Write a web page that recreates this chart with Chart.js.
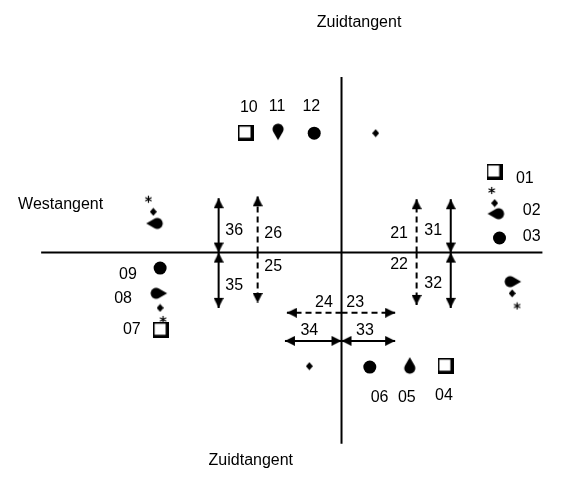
<!DOCTYPE html>
<html>
<head>
<meta charset="utf-8">
<script src="https://cdn.jsdelivr.net/npm/chart.js@4"></script>
<style>
  html, body { margin: 0; padding: 0; background: #fff; }
  canvas { display: block; }
</style>
</head>
<body>
<canvas id="crossing" width="566" height="477"></canvas>
<script>
// coordinates relative to the centre of the crossing (x right, y up)
const roadLines = [[[0, 181], [0, -197]], [[-308, 0], [206, 0]]];

const squarePts = [[-98, 123], [157, 83], [-185, -80], [107, -117]];
const circlePts = [[-28, 123], [162, 15], [-186, -16], [29, -118]];
const diamondPts = [[35, 123], [157, 51], [-193, 42], [-186, -57], [175, -42], [-33, -117]];
const starPts = [[154, 64], [-198, 55], [-183, -69], [180, -55]];
const dropPts = [[-65, 125], [159, 40], [-191, 30], [-188, -42], [175, -30], [70, -117]];
const dropDir = [180, 270, 270, 90, 90, 0];

// solid arrows have heads at both ends, dashed only at the far end
const solidArrows = [
  [[-126, 0], [-126, 56]], [[-126, 0], [-126, -57]],
  [[112, 0], [112, 55]], [[112, 0], [112, -57]],
  [[0, -91], [-58, -91]], [[0, -91], [55, -91]]
];
const dashedArrows = [
  [[-86, 0], [-86, 58]], [[-86, 0], [-86, -52]],
  [[77, 0], [77, 55]], [[77, 0], [77, -54]],
  [[0, -62], [-56, -62]], [[0, -62], [55, -62]]
];

const labelText = ["Zuidtangent", "Zuidtangent", "Westangent",
  "10", "11", "12", "01", "02", "03", "09", "08", "07", "06", "05", "04",
  "36", "35", "26", "25", "21", "31", "22", "32", "24", "23", "34", "33"];
const labelPos = [[18, 237], [-93, -214], [-288, 49],
  [-95, 149], [-66, 150], [-31, 150], [188, 76], [195, 43], [195, 16],
  [-219, -23], [-224, -47], [-215, -79], [39, -149], [67, -149], [105, -147],
  [-110, 23], [-110, -34], [-70, 20], [-70, -14], [59, 20], [94, 23], [59, -12], [94, -32],
  [-18, -52], [14, -52], [-33, -80], [24, -80]];

function makeCanvas(w, h, draw) {
  const c = document.createElement("canvas");
  c.width = w; c.height = h;
  const g = c.getContext("2d");
  g.fillStyle = "#000"; g.strokeStyle = "#000";
  draw(g);
  return c;
}

// arrow head pointing up, tip at the image centre
const arrowHead = makeCanvas(10, 22, g => {
  g.beginPath(); g.moveTo(5, 11); g.lineTo(10, 21); g.lineTo(0, 21); g.closePath(); g.fill();
});
// square outline with a shadow on right and bottom
const shadowSquare = makeCanvas(16, 16, g => {
  g.fillRect(0, 0, 16, 16);
  g.fillStyle = "#fff"; g.fillRect(1.5, 1.5, 11, 11);
});
const diamond = makeCanvas(7, 9, g => {
  g.beginPath(); g.moveTo(3.5, 0.5); g.lineTo(7, 4.5); g.lineTo(3.5, 8.5); g.lineTo(0, 4.5); g.closePath(); g.fill();
});
const star = makeCanvas(9, 9, g => {
  g.lineWidth = 1.2;
  g.translate(4.5, 4.5);
  for (let i = 0; i < 3; i++) {
    g.beginPath(); g.moveTo(0, -3.6); g.lineTo(0, 3.6); g.stroke();
    g.rotate(Math.PI / 3);
  }
});
// drop pointing up, head below
const drop = makeCanvas(14, 26, g => {
  const r = 5.5, d = 11, cx = 7, cy = 15;
  const t = Math.acos(r / d);
  g.beginPath();
  g.moveTo(cx, cy - d);
  g.arc(cx, cy, r, -Math.PI / 2 + t, 3 * Math.PI / 2 - t);
  g.closePath(); g.fill();
});

const toXY = p => ({ x: p[0], y: p[1] });
const angle = (a, b) => Math.atan2(-(b[1] - a[1]), b[0] - a[0]) * 180 / Math.PI + 90;

const datasets = [];
roadLines.forEach(l => datasets.push({
  data: l.map(toXY), showLine: true, borderColor: "#000", borderWidth: 2, pointRadius: 0
}));
solidArrows.forEach(l => datasets.push({
  data: l.map(toXY), showLine: true, borderColor: "#000", borderWidth: 2,
  pointStyle: arrowHead, pointRadius: 5, pointRotation: [angle(l[1], l[0]), angle(l[0], l[1])]
}));
dashedArrows.forEach(l => datasets.push({
  data: l.map(toXY), showLine: true, borderColor: "#000", borderWidth: 2, borderDash: [6, 4],
  pointStyle: arrowHead, pointRadius: [0, 5], pointRotation: [0, angle(l[0], l[1])]
}));
datasets.push({ data: squarePts.map(toXY), pointStyle: shadowSquare, pointRadius: 5 });
datasets.push({ data: circlePts.map(toXY), pointStyle: "circle", pointRadius: 6.5, backgroundColor: "#000", borderColor: "#000", borderWidth: 0 });
datasets.push({ data: diamondPts.map(toXY), pointStyle: diamond, pointRadius: 5 });
datasets.push({ data: starPts.map(toXY), pointStyle: star, pointRadius: 5 });
datasets.push({ data: dropPts.map(toXY), pointStyle: drop, pointRadius: 5, pointRotation: dropDir });
datasets.forEach(d => { d.clip = false; });

const labelPlugin = {
  id: "labels",
  afterDatasetsDraw(chart) {
    const c = chart.ctx, xs = chart.scales.x, ys = chart.scales.y;
    c.save();
    c.fillStyle = "#000";
    c.font = "16px 'Liberation Sans', Arial, sans-serif";
    c.textAlign = "center";
    c.textBaseline = "middle";
    labelText.forEach((t, i) => {
      c.fillText(t, xs.getPixelForValue(labelPos[i][0]), ys.getPixelForValue(labelPos[i][1]));
    });
    c.restore();
  }
};

new Chart(document.getElementById("crossing"), {
  type: "scatter",
  data: { datasets },
  options: {
    responsive: false,
    animation: false,
    events: [],
    layout: { padding: 0 },
    scales: {
      x: { type: "linear", min: -343, max: 223, display: false },
      y: { type: "linear", min: -224, max: 253, display: false }
    },
    plugins: { legend: { display: false }, tooltip: { enabled: false } }
  },
  plugins: [labelPlugin]
});
</script>
</body>
</html>
